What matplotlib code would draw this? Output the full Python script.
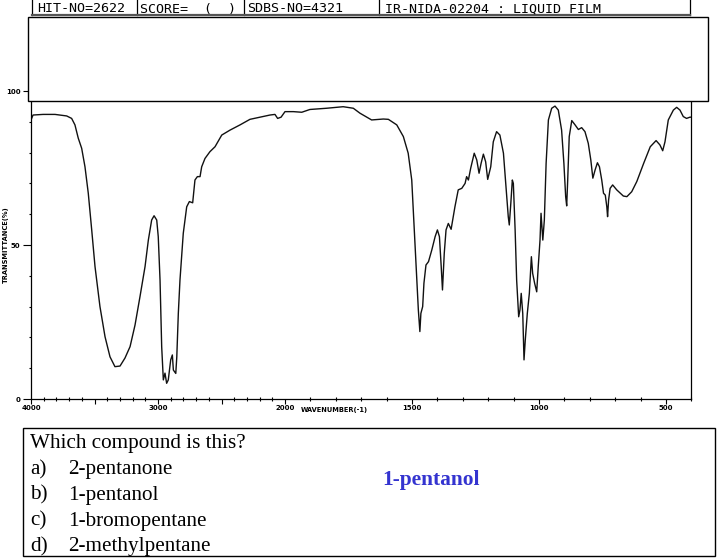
import numpy as np
import matplotlib
matplotlib.use("Agg")
import matplotlib.pyplot as plt
from matplotlib.patches import Rectangle
from matplotlib.lines import Line2D

# ----------------------------------------------------------------------
# Data (wavenumber in cm-1, T in %)
# ----------------------------------------------------------------------
wavenumber = [
    4000, 3984, 3905, 3811, 3719, 3680, 3654, 3628, 3601, 3575, 3549, 3522,
    3496, 3457, 3417, 3378, 3339, 3299, 3260, 3220, 3181, 3142, 3102, 3076,
    3050, 3031, 3010, 2998, 2984, 2971, 2958, 2945, 2932, 2919, 2900, 2887,
    2879, 2860, 2852, 2840, 2827, 2801, 2774, 2753, 2727, 2709, 2690, 2669,
    2656, 2630, 2591, 2551, 2498, 2433, 2354, 2276, 2197, 2118, 2079, 2058,
    2031, 2000, 1967, 1934, 1902, 1836, 1771, 1731, 1705, 1659, 1613, 1593,
    1560, 1534, 1515, 1501, 1491, 1482, 1475, 1469, 1465, 1458, 1453, 1445,
    1435, 1422, 1409, 1400, 1392, 1385, 1380, 1373, 1366, 1357, 1346, 1331,
    1318, 1304, 1291, 1285, 1278, 1269, 1255, 1245, 1236, 1228, 1219, 1210,
    1202, 1190, 1180, 1167, 1154, 1140, 1130, 1121, 1117, 1111, 1105, 1101,
    1094, 1088, 1080, 1075, 1070, 1064, 1059, 1054, 1046, 1038, 1030, 1025,
    1017, 1009, 1003, 996, 992, 985, 979, 972, 963, 950, 937, 924,
    911, 902, 895, 891, 887, 881, 871, 858, 845, 832, 819, 806,
    796, 788, 779, 770, 762, 753, 746, 739, 733, 730, 726, 720,
    710, 694, 668, 654, 635, 615, 588, 562, 539, 524, 513, 504,
    491, 471, 458, 445, 432, 419, 406, 400,
]
transmittance = [
    90.6, 92.2, 92.4, 92.4, 91.9, 91.1, 89.0, 84.7, 81.4, 75.4, 66.8, 54.9,
    43.0, 30.0, 20.2, 13.7, 10.5, 10.7, 13.3, 17.0, 24.0, 33.2, 43.0, 51.6,
    58.1, 59.5, 58.1, 52.7, 38.6, 17.0, 6.2, 8.4, 5.1, 6.2, 12.7, 14.3,
    9.4, 8.3, 13.7, 27.8, 38.6, 53.8, 62.4, 64.1, 63.7, 71.1, 72.2, 72.2,
    75.4, 78.1, 80.3, 81.9, 85.7, 87.3, 89.0, 90.8, 91.5, 92.2, 92.4, 91.1,
    91.5, 93.3, 93.3, 93.1, 94.0, 94.4, 94.9, 94.4, 92.8, 90.6, 90.9, 90.8,
    89.0, 85.2, 79.8, 71.1, 54.9, 40.8, 28.9, 21.9, 27.8, 30.0, 37.6, 43.5,
    44.6, 48.4, 52.7, 54.9, 52.7, 43.0, 35.4, 47.3, 54.9, 57.0, 55.1, 62.4,
    67.9, 68.4, 70.0, 72.2, 71.1, 74.9, 79.8, 77.6, 73.3, 76.5, 79.5, 77.0,
    71.3, 75.4, 83.5, 86.8, 85.7, 79.8, 68.9, 59.2, 56.5, 63.5, 71.1, 70.0,
    54.9, 38.6, 26.7, 28.9, 34.3, 27.8, 12.7, 19.2, 27.8, 34.3, 46.2, 40.8,
    37.5, 34.8, 43.0, 51.6, 60.3, 51.6, 58.1, 76.5, 90.6, 94.4, 95.1, 93.8,
    87.3, 76.5, 65.7, 62.7, 71.1, 85.2, 90.4, 89.0, 87.5, 88.1, 86.8, 83.0,
    77.6, 71.7, 74.4, 76.7, 75.4, 71.1, 66.8, 66.2, 62.4, 59.2, 64.6, 68.4,
    69.5, 67.9, 65.9, 65.7, 67.3, 70.6, 76.5, 81.9, 83.9, 82.5, 80.6, 83.5,
    90.6, 93.8, 94.7, 93.8, 91.7, 91.1, 91.5, 91.5,
]

x_major = [4000, 3500, 3000, 2500, 2000, 1500, 1000, 500]
x_major_labels = ["4000", "", "3000", "", "2000", "1500", "1000", "500"]
y_major = [0, 50, 100]
y_major_labels = ["0", "50", "100"]

header_cells = ["HIT-NO=2622", "SCORE=  (  )", "SDBS-NO=4321",
                "IR-NIDA-02204 : LIQUID FILM"]
question = "Which compound is this?"
option_letters = ["a)", "b)", "c)", "d)"]
option_names = ["2-pentanone", "1-pentanol", "1-bromopentane", "2-methylpentane"]
answer = "1-pentanol"

W, H = 718, 559


def fx(px):
    return px / W


def fy(py):
    return 1 - py / H


# SDBS charts use a doubled scale below 2000 cm-1
def forward(w):
    w = np.asarray(w, dtype=float)
    return np.where(w >= 2000, w, 2 * w - 2000)


def inverse(u):
    u = np.asarray(u, dtype=float)
    return np.where(u >= 2000, u, (u + 2000) / 2)


fig = plt.figure(figsize=(W / 100, H / 100), dpi=100)
fig.patch.set_facecolor("white")

ax = fig.add_axes([fx(31), fy(399), (691.4 - 31) / W, (399 - 91) / H])
ax.set_xscale("function", functions=(forward, inverse))
ax.plot(wavenumber, transmittance, color="#111111", lw=1.0)
ax.set_xlim(4000, 400)
ax.set_ylim(0, 100)

ax.set_xticks(x_major)
ax.set_xticklabels(x_major_labels)
ax.set_xticks(np.arange(400, 4001, 100), minor=True)
ax.set_yticks(y_major)
ax.set_yticklabels(y_major_labels)
ax.set_yticks(np.arange(0, 101, 10), minor=True)
ax.tick_params(axis="both", which="major", direction="out", length=3.5,
               width=0.8, labelsize=5, pad=1)
ax.tick_params(axis="both", which="minor", direction="inout", length=2.5,
               width=0.8)
ax.tick_params(axis="y", which="major", length=6, pad=1.5)
ax.tick_params(axis="y", which="minor", direction="out", length=1.5)
for lab in ax.get_xticklabels() + ax.get_yticklabels():
    lab.set_fontweight("bold")
for sp in ax.spines.values():
    sp.set_linewidth(0.9)
ax.spines["top"].set_visible(False)

fig.text(fx(6), fy(245), "TRANSMITTANCE(%)", rotation=90, ha="center",
         va="center", fontsize=4.8, fontweight="bold")
fig.text(fx(334), fy(410), "WAVENUMBER(-1)", ha="center", va="center",
         fontsize=4.8, fontweight="bold")

# header strip
for xs in [32, 137, 244, 379, 690]:
    fig.add_artist(Line2D([fx(xs), fx(xs)], [fy(0), fy(15)], color="black",
                          lw=0.9, transform=fig.transFigure))
fig.add_artist(Line2D([fx(32), fx(690)], [fy(14.5), fy(14.5)], color="#555555",
                      lw=1.6, transform=fig.transFigure))
for xs, txt in zip([37, 140, 247, 385], header_cells):
    fig.text(fx(xs), fy(12.5), txt, family="DejaVu Sans Mono", fontsize=9.6,
             va="baseline", ha="left")

# white box over the top of the chart
fig.add_artist(Rectangle((fx(28), fy(101)), fx(708 - 28), (101 - 17) / H,
                         facecolor="white", edgecolor="black", lw=1.0,
                         transform=fig.transFigure, zorder=5))

# question box
fig.add_artist(Rectangle((fx(23), fy(556)), fx(715 - 23), (556 - 428) / H,
                         facecolor="white", edgecolor="black", lw=1.0,
                         transform=fig.transFigure, zorder=5))
serif = "Liberation Serif"
fig.text(fx(30), fy(448), question, family=serif, fontsize=15.2,
         va="baseline", zorder=6)
for i, (let, name) in enumerate(zip(option_letters, option_names)):
    base = 474 + 25.8 * i
    fig.text(fx(30), fy(base), let, family=serif, fontsize=15.2,
             va="baseline", zorder=6)
    fig.text(fx(68), fy(base), name, family=serif, fontsize=15.2,
             va="baseline", zorder=6)
fig.text(fx(431), fy(485), answer, family=serif, fontsize=15.4,
         fontweight="bold", color="#3434d0", ha="center", va="baseline",
         zorder=6)

fig.savefig("out.png", dpi=100)
plt.close(fig)
